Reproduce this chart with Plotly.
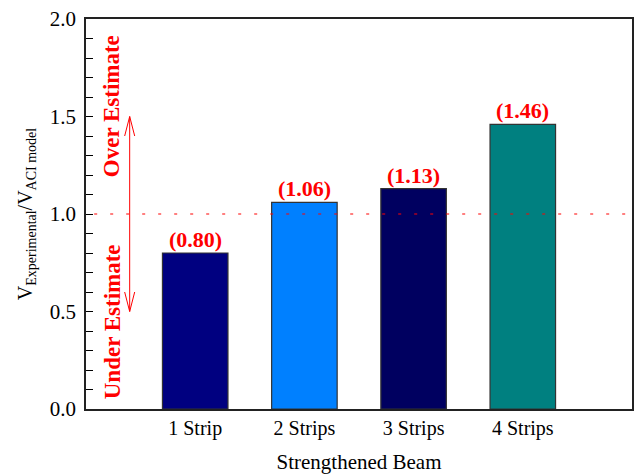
import plotly.graph_objects as go

categories = ["1 Strip", "2 Strips", "3 Strips", "4 Strips"]
values = [0.80, 1.06, 1.13, 1.46]
labels = ["(0.80)", "(1.06)", "(1.13)", "(1.46)"]
colors = ["#000080", "#0080FF", "#000060", "#008080"]
y_ticks = [0.0, 0.5, 1.0, 1.5, 2.0]

xpos = list(range(len(categories)))
FONT = "Liberation Serif, Times New Roman, serif"
RED = "#FF0000"

fig = go.Figure()
fig.add_trace(go.Bar(
    x=xpos, y=values, width=0.6,
    marker=dict(color=colors, line=dict(color="#333333", width=1.2)),
    showlegend=False, hoverinfo="skip",
))

for xi, v, t in zip(xpos, values, labels):
    fig.add_annotation(x=xi, y=v, text="<b>%s</b>" % t, showarrow=False,
                       yanchor="bottom", yshift=-1,
                       font=dict(family=FONT, size=22, color=RED))

# reference line at 1.0
fig.add_shape(type="line", xref="paper", yref="y", x0=0.015, x1=1, y0=1.0, y1=1.0,
              line=dict(color=RED, width=1.2, dash="3px,13px"))

# double-headed arrow
ax = -0.6
hw = 0.046
hl = 0.1
y_top, y_bot = 1.5, 0.5
fig.add_shape(type="line", x0=ax, x1=ax, y0=y_bot, y1=y_top, line=dict(color=RED, width=1))
fig.add_shape(type="path",
              path=f"M {ax-hw} {y_top-hl} L {ax} {y_top} L {ax+hw} {y_top-hl}",
              line=dict(color=RED, width=1))
fig.add_shape(type="path",
              path=f"M {ax-hw} {y_bot+hl} L {ax} {y_bot} L {ax+hw} {y_bot+hl}",
              line=dict(color=RED, width=1))

fig.add_annotation(x=-0.76, y=1.554, text="<b>Over Estimate</b>", showarrow=False,
                   textangle=-90, font=dict(family=FONT, size=23, color=RED))
fig.add_annotation(x=-0.76, y=0.446, text="<b>Under Estimate</b>", showarrow=False,
                   textangle=-90, font=dict(family=FONT, size=23, color=RED))

fig.update_layout(
    width=640, height=475,
    margin=dict(l=86, r=8, t=19, b=66),
    paper_bgcolor="white", plot_bgcolor="white",
    font=dict(family=FONT, color="black"),
    bargap=0.4,
)
fig.update_xaxes(
    range=[-1, 4], tickvals=xpos, ticktext=categories,
    tickfont=dict(family=FONT, size=20), ticklabelstandoff=0,
    showgrid=False, zeroline=False, ticks="", automargin=False,
    showline=True, linecolor="#222222", linewidth=1.5, mirror=True,
    title=dict(text="Strengthened Beam", font=dict(family=FONT, size=21), standoff=16),
)
fig.update_yaxes(
    range=[0, 2], tickvals=y_ticks, ticktext=["%.1f" % v for v in y_ticks],
    tickfont=dict(family=FONT, size=21), ticklabelstandoff=4, automargin=False,
    showgrid=False, zeroline=False,
    ticks="inside", ticklen=7, tickcolor="black", tickwidth=1,
    minor=dict(dtick=0.1, ticks="inside", ticklen=7, tickcolor="black", tickwidth=1, showgrid=False),
    showline=True, linecolor="#222222", linewidth=1.5, mirror=True,
    title=dict(text="V<sub>Experimental</sub>/V<sub>ACI model</sub>",
               font=dict(family=FONT, size=20), standoff=12),
)

fig.write_html("out.html")
